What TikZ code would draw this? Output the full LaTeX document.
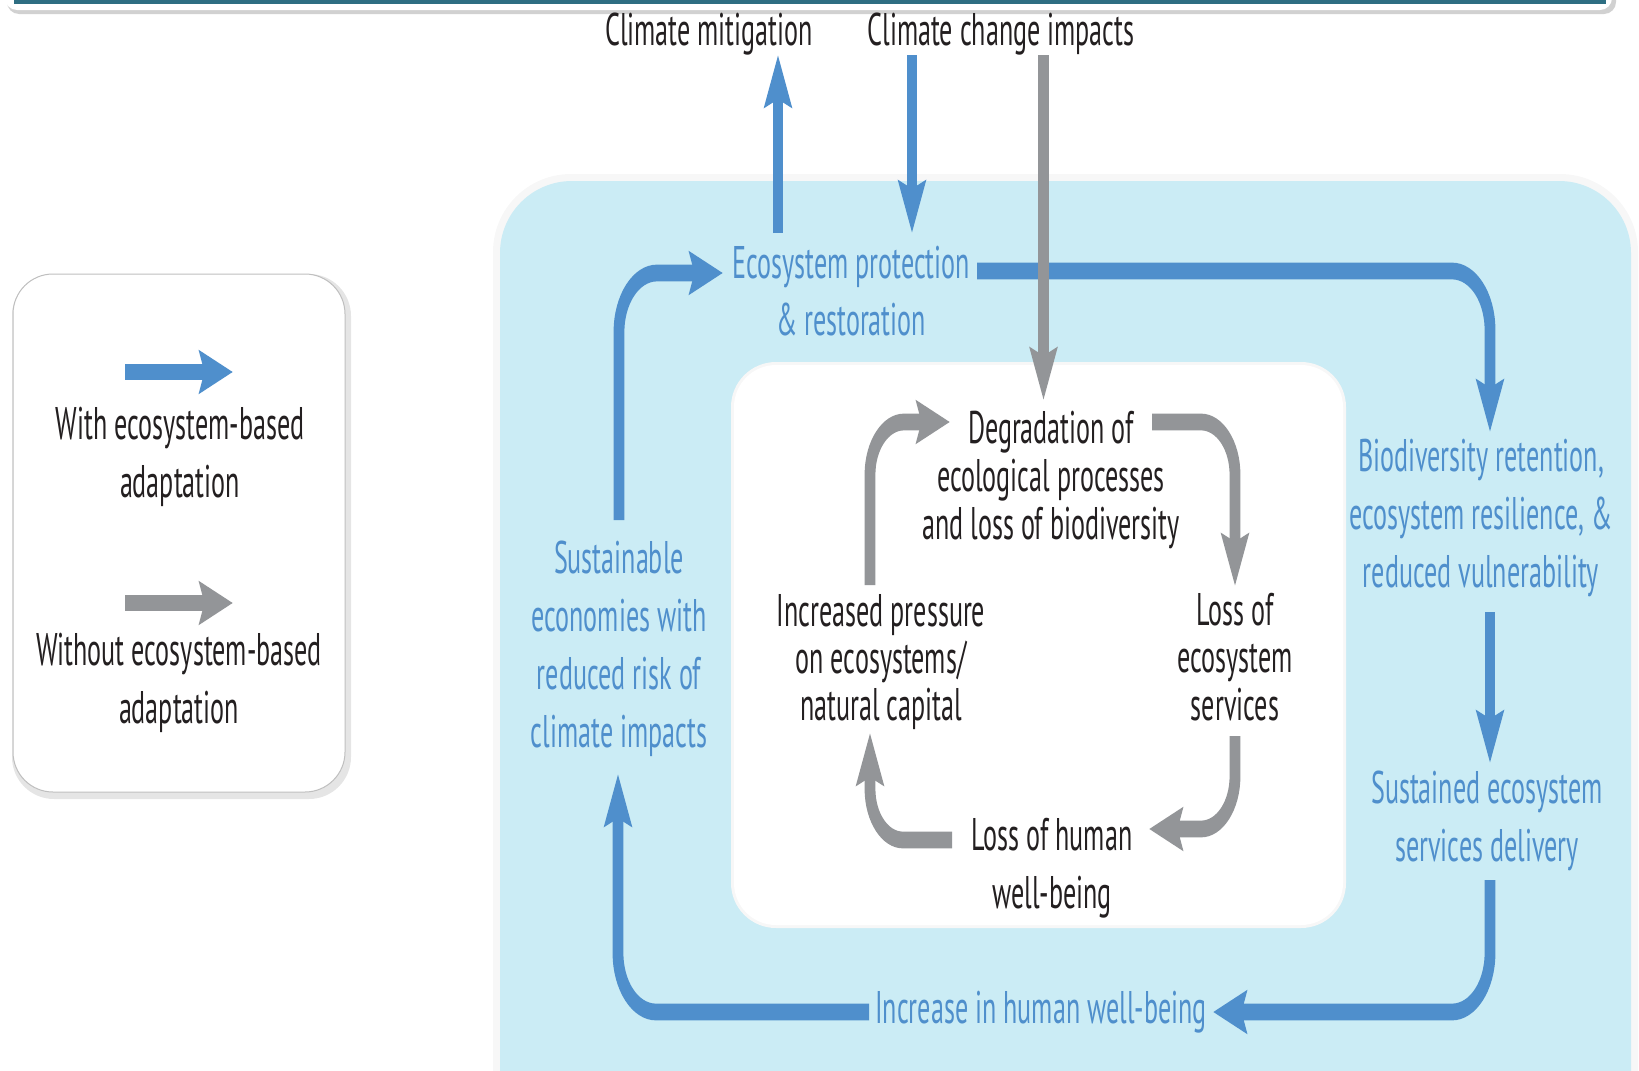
\documentclass[tikz,border=0pt]{standalone}
\usepackage{fontspec}
\setmainfont{PT Sans}[FakeStretch=0.885]
\usetikzlibrary{arrows.meta}
\definecolor{ebablue}{RGB}{79,143,204}
\definecolor{ebagray}{RGB}{147,149,152}
\definecolor{ebabg}{RGB}{203,236,245}
\definecolor{ebatext}{RGB}{35,31,32}
\definecolor{ebateal}{RGB}{46,110,130}
\begin{document}
\begin{tikzpicture}[x=1pt,y=-1pt,
  every node/.style={inner sep=0pt, align=center},
  btxt/.style={text=ebablue, font=\fontsize{29.5}{37.3}\selectfont},
  ktxt/.style={text=ebatext, font=\fontsize{29.5}{37.3}\selectfont},
  itxt/.style={text=ebatext, font=\fontsize{29.5}{30.5}\selectfont},
  flowtip/.style={-{Stealth[length=33.5pt,width=27pt,inset=5pt]}},
  blueflow/.style={draw=ebablue, line width=10.8pt, flowtip},
  grayflow/.style={draw=ebagray, line width=10.8pt, flowtip},
]
\useasboundingbox (0,0) rectangle (1639,1071);
% top frame
\fill[black!18, rounded corners=12pt] (7,-30) rectangle (1616,14);
\fill[white, rounded corners=12pt] (5,-30) rectangle (1612,10);
\fill[ebateal] (14,-5) rectangle (1606,3.5);
% large light-blue panel
\fill[black!3, rounded corners=78pt] (493,174) rectangle (1638,1200);
\fill[ebabg, rounded corners=72pt] (500,181) rectangle (1631,1200);
% inner white panel
\fill[black!3, rounded corners=45pt] (731,362) rectangle (1346,928);
\fill[white, rounded corners=42pt] (734,365) rectangle (1343,925);
% legend box
\fill[black!10, rounded corners=42pt] (12,274) rectangle (351,799);
\filldraw[fill=white, draw=black!25, line width=1pt, rounded corners=40pt] (13,274) rectangle (345,792);

\begin{scope}[transform canvas={yscale=1.55}, y={(0pt,-0.6451613pt)}]
% texts
\node[ktxt] (mit) at (709,34) {Climate mitigation};
\node[ktxt] (imp) at (1001,34) {Climate change impacts};
\node[btxt] (eco) at (851,291) {Ecosystem protection\\\& restoration};
\node[btxt] (bio) at (1481,518) {Biodiversity retention,\\ecosystem resilience, \&\\reduced vulnerability};
\node[btxt] (sed) at (1487,821) {Sustained ecosystem\\services delivery};
\node[btxt] (inc) at (1041,1012) {Increase in human well-being};
\node[btxt] (sus) at (619,649) {Sustainable\\economies with\\reduced risk of\\climate impacts};
\node[itxt, font=\fontsize{29.5}{31}\selectfont] (deg) at (1051,480) {Degradation of\\ecological processes\\and loss of biodiversity};
\node[itxt] (inp) at (881,662) {Increased pressure\\on ecosystems/\\natural capital};
\node[itxt] (les) at (1235,657) {Loss of\\ecosystem\\services};
\node[ktxt] (lhw) at (1052,868) {Loss of human\\well-being};
\node[ktxt] (leg1) at (180,457) {With ecosystem-based\\adaptation};
\node[ktxt] (leg2) at (179,683) {Without ecosystem-based\\adaptation};

% legend arrows
\draw[blueflow] (125,372) coordinate (lb1) -- (233,372) coordinate (lb2);
\draw[grayflow] (125,603) coordinate (lg1) -- (233,603) coordinate (lg2);

% outer (blue) loop
\draw[blueflow] (778,233) coordinate (m1) -- (778,55) coordinate (m2);
\draw[blueflow] (912,55) coordinate (c1) -- (912,233) coordinate (c2);
\draw[blueflow, rounded corners=38pt] (619,520) coordinate (s1) -- (619,273) -- (723,273) coordinate (s2);
\draw[blueflow, rounded corners=38pt] (977,271) coordinate (e1) -- (1490,271) -- (1490,432) coordinate (e2);
\draw[blueflow] (1490,612) coordinate (b1) -- (1490,763) coordinate (b2);
\draw[blueflow, rounded corners=38pt] (1490,880) coordinate (d1) -- (1490,1012) -- (1213,1012) coordinate (d2);
\draw[blueflow, rounded corners=38pt] (869,1012) coordinate (h1) -- (618,1012) -- (618,774) coordinate (h2);

% impacts without EbA
\draw[grayflow] (1043.5,55) coordinate (g1) -- (1043.5,400) coordinate (g2);

% inner (gray) loop
\draw[grayflow, rounded corners=34pt] (870,585) coordinate (p1) -- (870,422) -- (950,422) coordinate (p2);
\draw[grayflow, rounded corners=34pt] (1152,422) coordinate (q1) -- (1235,422) -- (1235,586) coordinate (q2);
\draw[grayflow, rounded corners=34pt] (1235,736) coordinate (r1) -- (1235,829) -- (1149,829) coordinate (r2);
\draw[grayflow, rounded corners=33pt] (952,840) coordinate (t1) -- (870,840) -- (870,733) coordinate (t2);
\end{scope}
\end{tikzpicture}
\end{document}
